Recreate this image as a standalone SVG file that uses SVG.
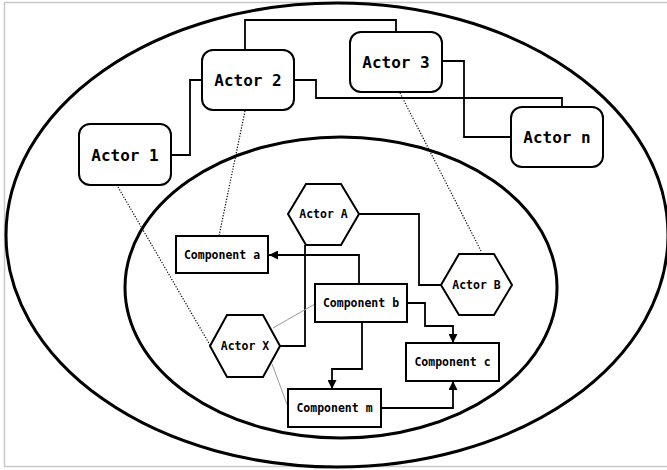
<svg xmlns="http://www.w3.org/2000/svg" width="667" height="470" viewBox="0 0 667 470">
  <style>
    .frame { fill: #fff; stroke: #c8c8c8; stroke-width: 1.5; }
    .scope { fill: none; stroke: #000; stroke-width: 3; }
    .actor { fill: #fff; stroke: #000; stroke-width: 2; }
    .hex { fill: #fff; stroke: #000; stroke-width: 2; }
    .comp { fill: #fff; stroke: #000; stroke-width: 2; }
    .big { font-family: "DejaVu Sans Mono", "Liberation Mono", monospace; font-weight: bold; font-size: 16px; text-anchor: middle; dominant-baseline: central; fill: #000; }
    .small { font-family: "DejaVu Sans Mono", "Liberation Mono", monospace; font-weight: bold; font-size: 11.5px; text-anchor: middle; dominant-baseline: central; fill: #000; }
    .link { fill: none; stroke: #000; stroke-width: 1.8; }
    .arrow { fill: none; stroke: #000; stroke-width: 1.8; marker-end: url(#head); }
    .dot { fill: none; stroke: #000; stroke-width: 1.2; stroke-dasharray: 1.2 1.6; }
    .thin { fill: none; stroke: #999; stroke-width: 1; }
  </style>
  <defs>
    <marker id="head" viewBox="0 0 10 10" refX="10" refY="5" markerWidth="5" markerHeight="5" markerUnits="strokeWidth" orient="auto">
      <path d="M0,0 L10,5 L0,10 z" fill="#000"/>
    </marker>
  </defs>

  <rect class="frame" x="4.5" y="2.5" width="670" height="464"/>

  <!-- scopes -->
  <ellipse class="scope" cx="337" cy="235" rx="331" ry="232"/>
  <ellipse class="scope" cx="341" cy="287.5" rx="216" ry="150.5"/>

  <!-- connectors -->
  <g id="connectors">
    <path class="link" d="M171,155 H190 V80 H202"/>
    <path class="link" d="M245,50 V20 H396 V32"/>
    <path class="link" d="M294,80 H316 V98 H562 V107"/>
    <path class="link" d="M442,61 H464 V137 H511"/>
    <path class="dot" d="M118,187 L210,345"/>
    <path class="dot" d="M245,111 L219,236"/>
    <path class="dot" d="M400,93 L481,251"/>
    <path class="link" d="M359,214 H419 V285 H441"/>
    <path class="link" d="M280,346 H305 V245"/>
    <path class="arrow" d="M359,284 V255 H269"/>
    <path class="arrow" d="M407,303 H425 V326 H453 V343"/>
    <path class="arrow" d="M362,322 V369 H332 V389"/>
    <path class="arrow" d="M381,408 H453 V381"/>
    <path class="thin" d="M273,328 L315,304"/>
    <path class="thin" d="M272,364 L288,407"/>
  </g>

  <!-- actors -->
  <g id="actor-1">
    <rect class="actor" x="79" y="124" width="92" height="61" rx="11"/>
    <text class="big" x="125" y="155">Actor 1</text>
  </g>
  <g id="actor-2">
    <rect class="actor" x="202" y="50" width="92" height="60" rx="11"/>
    <text class="big" x="248" y="80">Actor 2</text>
  </g>
  <g id="actor-3">
    <rect class="actor" x="350" y="32" width="92" height="60" rx="11"/>
    <text class="big" x="396" y="62">Actor 3</text>
  </g>
  <g id="actor-n">
    <rect class="actor" x="511" y="107" width="92" height="60" rx="11"/>
    <text class="big" x="557" y="137">Actor n</text>
  </g>

  <!-- hexagon actors -->
  <g id="actor-a">
    <polygon class="hex" points="288,214 306,184 341,184 359,214 341,245 306,245"/>
    <text class="small" x="323.5" y="214">Actor A</text>
  </g>
  <g id="actor-b">
    <polygon class="hex" points="441,285 459,254 494,254 512,285 494,315 459,315"/>
    <text class="small" x="476.5" y="285">Actor B</text>
  </g>
  <g id="actor-x">
    <polygon class="hex" points="210,346 227,315 263,315 280,346 263,377 227,377"/>
    <text class="small" x="245" y="346">Actor X</text>
  </g>

  <!-- components -->
  <g id="component-a">
    <rect class="comp" x="176" y="236" width="92" height="37"/>
    <text class="small" x="222" y="254.5">Component a</text>
  </g>
  <g id="component-b">
    <rect class="comp" x="315" y="284" width="92" height="38"/>
    <text class="small" x="361" y="303">Component b</text>
  </g>
  <g id="component-c">
    <rect class="comp" x="406" y="343" width="93" height="38"/>
    <text class="small" x="452.5" y="362">Component c</text>
  </g>
  <g id="component-m">
    <rect class="comp" x="288" y="389" width="93" height="38"/>
    <text class="small" x="334.5" y="408">Component m</text>
  </g>
</svg>
